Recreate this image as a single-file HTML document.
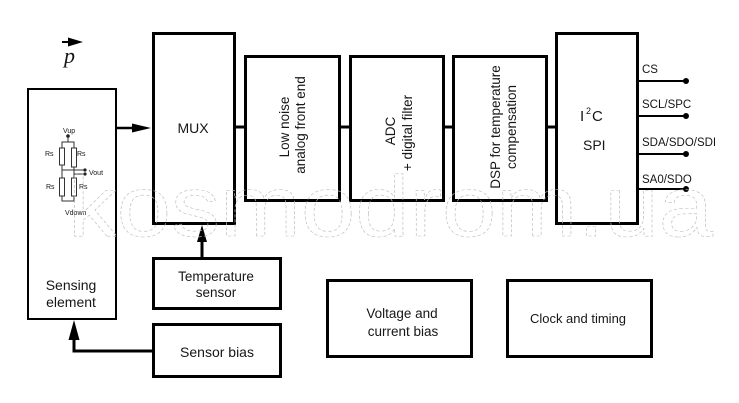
<!DOCTYPE html>
<html><head><meta charset="utf-8"><style>
html,body{margin:0;padding:0;background:#fff;}
svg{display:block;}
text{font-family:"Liberation Sans",Arial,sans-serif;fill:#161616;}
</style></head><body>
<svg width="739" height="403" viewBox="0 0 739 403" xmlns="http://www.w3.org/2000/svg">
<rect width="739" height="403" fill="#fff"/>

<!-- p arrow -->
<line x1="62" y1="42" x2="70" y2="42" stroke="#000" stroke-width="2"/>
<polygon points="68,37.5 83,42 68,46.5" fill="#000"/>
<text x="64" y="63" style="font-family:'Liberation Serif',serif;font-style:italic;font-size:22px;">p</text>

<!-- boxes -->
<g fill="none" stroke="#000">
<rect x="28" y="89" width="88" height="230" stroke-width="2"/>
<rect x="153.5" y="33.5" width="81" height="190" stroke-width="3"/>
<rect x="245.5" y="56.5" width="94" height="144" stroke-width="3"/>
<rect x="350.5" y="56.5" width="93" height="144" stroke-width="3"/>
<rect x="453.5" y="56.5" width="93" height="144" stroke-width="3"/>
<rect x="556.5" y="33.5" width="81" height="190" stroke-width="3"/>
<rect x="153.5" y="258.5" width="127" height="50" stroke-width="3"/>
<rect x="153.5" y="324.5" width="127" height="52" stroke-width="3"/>
<rect x="327.5" y="280.5" width="144" height="76" stroke-width="3"/>
<rect x="507.5" y="280.5" width="144" height="76" stroke-width="3"/>
</g>

<!-- connectors -->
<g stroke="#000" stroke-width="3" fill="none">
<line x1="235" y1="127" x2="246" y2="127"/>
<line x1="339" y1="127" x2="351" y2="127"/>
<line x1="443" y1="127" x2="454" y2="127"/>
<line x1="546" y1="127" x2="557" y2="127"/>
<line x1="116" y1="128" x2="134" y2="128" stroke-width="2.5"/>
<line x1="202" y1="257" x2="202" y2="240"/>
<polyline points="152,351 74,351 74,338"/>
</g>
<polygon points="132,123.5 151,128 132,132.5" fill="#000"/>
<polygon points="197,242 202,225 207,242" fill="#000"/>
<polygon points="68.5,340 74,320 79.5,340" fill="#000"/>

<!-- outputs -->
<g stroke="#000" stroke-width="2">
<line x1="638" y1="81" x2="686" y2="81"/>
<line x1="638" y1="116" x2="686" y2="116"/>
<line x1="638" y1="154" x2="686" y2="154"/>
<line x1="638" y1="189" x2="686" y2="189"/>
</g>
<g fill="#000">
<circle cx="686" cy="81" r="3"/>
<circle cx="686" cy="116" r="3"/>
<circle cx="686" cy="154" r="3"/>
<circle cx="686" cy="189" r="3"/>
</g>
<g style="font-size:11.5px;">
<text x="642" y="73">CS</text>
<text x="642" y="108">SCL/SPC</text>
<text x="642" y="146">SDA/SDO/SDI</text>
<text x="642" y="183">SA0/SDO</text>
</g>

<!-- block labels -->
<text x="193" y="133" text-anchor="middle" style="font-size:14px;">MUX</text>
<text x="71" y="290" text-anchor="middle" style="font-size:14px;">Sensing</text>
<text x="71" y="307" text-anchor="middle" style="font-size:14px;">element</text>
<text x="216" y="281" text-anchor="middle" style="font-size:13.5px;">Temperature</text>
<text x="216" y="297" text-anchor="middle" style="font-size:13.5px;">sensor</text>
<text x="217" y="357" text-anchor="middle" style="font-size:14px;">Sensor bias</text>
<text x="402" y="318" text-anchor="middle" style="font-size:13.5px;">Voltage and</text>
<text x="403" y="336" text-anchor="middle" style="font-size:13.5px;">current bias</text>
<text x="578" y="323" text-anchor="middle" style="font-size:13px;">Clock and timing</text>

<g style="font-size:13.5px;" text-anchor="middle">
<text transform="translate(289,127) rotate(-90)">Low noise</text>
<text transform="translate(305,125) rotate(-90)">analog front end</text>
<text transform="translate(395,131) rotate(-90)">ADC</text>
<text transform="translate(412,133) rotate(-90)">+ digital filter</text>
<text transform="translate(500,127) rotate(-90)">DSP for temperature</text>
<text transform="translate(516,127) rotate(-90)">compensation</text>
</g>

<text x="580" y="121" style="font-size:15px;">I</text>
<text x="586" y="114" style="font-size:9px;">2</text>
<text x="592" y="121" style="font-size:15px;">C</text>
<text x="583" y="150" style="font-size:14px;">SPI</text>

<!-- bridge circuit -->
<g stroke="#333" stroke-width="1" fill="none">
<line x1="68" y1="136" x2="68" y2="142"/>
<polyline points="62,148 62,142 74,142 74,148"/>
<rect x="59.5" y="148" width="5" height="17"/>
<rect x="71.5" y="148" width="5" height="19"/>
<line x1="62" y1="165" x2="62" y2="178"/>
<line x1="74" y1="167" x2="74" y2="178"/>
<line x1="62" y1="170" x2="85" y2="170"/>
<line x1="74" y1="174" x2="85" y2="174"/>
<rect x="59.5" y="178" width="5" height="18"/>
<rect x="71.5" y="178" width="5" height="18"/>
<polyline points="62,196 62,201 74,201 74,196"/>
</g>
<g fill="#222">
<circle cx="68" cy="136" r="1.8"/>
<circle cx="85" cy="170" r="1.6"/>
<circle cx="85" cy="174" r="1.6"/>
</g>
<g style="font-size:7px;">
<text x="63" y="133">Vup</text>
<text x="45" y="156">Rs</text>
<text x="77" y="156">Rs</text>
<text x="89" y="175">Vout</text>
<text x="46" y="189">Rs</text>
<text x="79" y="189">Rs</text>
<text x="65" y="215">Vdown</text>
</g>

<!-- watermark -->
<text x="68" y="236" textLength="645" lengthAdjust="spacingAndGlyphs" style="font-size:86px;fill:none;stroke:#bdbdbd;stroke-width:0.6;stroke-dasharray:3 2;">kosmodrom.ua</text>
</svg>
</body></html>
